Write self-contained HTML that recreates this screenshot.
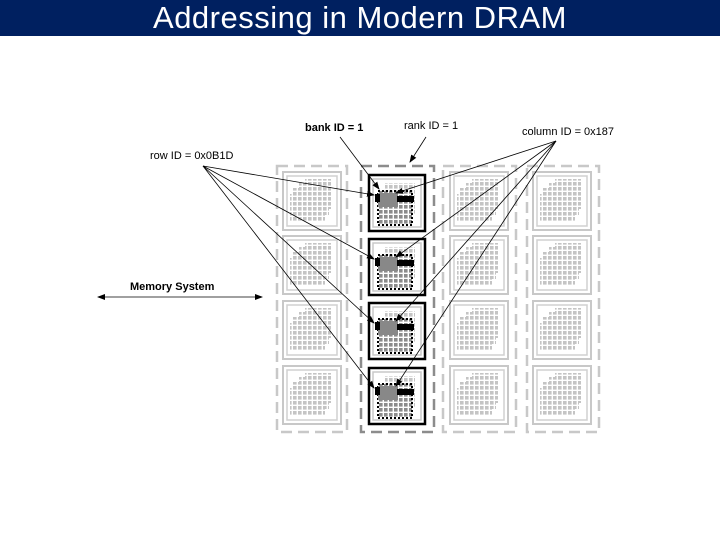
<!DOCTYPE html>
<html><head><meta charset="utf-8"><style>
body{margin:0;width:720px;height:540px;background:#fff;overflow:hidden;font-family:"Liberation Sans",sans-serif}
.hd{position:absolute;left:0;top:0;width:720px;height:36px;background:#002060;color:#fff;font-size:31px;text-align:center;line-height:36px;font-family:"Liberation Sans",sans-serif;letter-spacing:0.5px}
svg{position:absolute;left:0;top:0}
</style></head><body>
<div class="hd">Addressing in Modern DRAM</div>
<svg width="720" height="540" viewBox="0 0 720 540">
<defs>
<pattern id="g" width="5" height="5" patternUnits="userSpaceOnUse">
<rect width="5" height="5" fill="#fff"/><rect width="3.6" height="3.6" fill="#c4c4c4"/>
</pattern>
<pattern id="gd" width="5" height="5" patternUnits="userSpaceOnUse">
<rect width="5" height="5" fill="#fff"/><rect width="3.6" height="3.6" fill="#8c8c8c"/>
</pattern>
<g id="chip">
<rect x="0" y="0" width="58" height="58" fill="none" stroke="#c8c8c8" stroke-width="2"/>
<rect x="4" y="4" width="50" height="50" fill="none" stroke="#d0d0d0" stroke-width="1.5"/>
<rect x="22" y="7" width="26" height="30" fill="url(#g)"/>
<rect x="16" y="11" width="30" height="32" fill="url(#g)"/>
<rect x="10" y="16" width="32" height="34" fill="url(#g)"/>
<rect x="7" y="22" width="30" height="28" fill="url(#g)"/>
</g>
<g id="chipA">
<rect x="0" y="0" width="56" height="56" fill="none" stroke="#000" stroke-width="2.5"/>
<rect x="4" y="4" width="48" height="48" fill="none" stroke="#c8c8c8" stroke-width="1.5"/>
<rect x="16" y="8" width="30" height="32" fill="url(#g)"/>
<rect x="9" y="16" width="34" height="34" fill="url(#gd)" stroke="#000" stroke-width="2" stroke-dasharray="2,2"/>
<rect x="9" y="18" width="20" height="14" fill="#888"/>
<rect x="6" y="19" width="5" height="8" fill="#000"/>
<rect x="28" y="21" width="17" height="6" fill="#000"/>
</g>
<marker id="ar" markerWidth="8" markerHeight="8" refX="7" refY="4" orient="auto" markerUnits="userSpaceOnUse"><path d="M0,1 L8,4 L0,7 z" fill="#000"/></marker>
<marker id="al" markerWidth="8" markerHeight="8" refX="1" refY="4" orient="auto" markerUnits="userSpaceOnUse"><path d="M8,1 L0,4 L8,7 z" fill="#000"/></marker>
</defs>
<g fill="none" stroke-width="2.5" stroke-dasharray="11,6">
<rect x="277" y="166" width="70" height="266" stroke="#c8c8c8"/>
<rect x="361" y="166" width="73" height="266" stroke="#8c8c8c"/>
<rect x="443" y="166" width="73" height="266" stroke="#c8c8c8"/>
<rect x="527" y="166" width="72" height="266" stroke="#c8c8c8"/>
</g>
<use href="#chip" x="283" y="172"/><use href="#chip" x="283" y="236"/><use href="#chip" x="283" y="301"/><use href="#chip" x="283" y="366"/>
<use href="#chip" x="450" y="172"/><use href="#chip" x="450" y="236"/><use href="#chip" x="450" y="301"/><use href="#chip" x="450" y="366"/>
<use href="#chip" x="533" y="172"/><use href="#chip" x="533" y="236"/><use href="#chip" x="533" y="301"/><use href="#chip" x="533" y="366"/>
<use href="#chipA" x="369" y="175"/><use href="#chipA" x="369" y="239"/><use href="#chipA" x="369" y="303"/><use href="#chipA" x="369" y="368"/>
<g stroke="#000" stroke-width="0.8" marker-end="url(#ar)">
<line x1="203" y1="166" x2="374" y2="195"/>
<line x1="203" y1="166" x2="374" y2="259"/>
<line x1="203" y1="166" x2="374" y2="323"/>
<line x1="203" y1="166" x2="374" y2="388"/>
<line x1="556" y1="141" x2="396" y2="193"/>
<line x1="556" y1="141" x2="396" y2="257"/>
<line x1="556" y1="141" x2="396" y2="321"/>
<line x1="556" y1="141" x2="396" y2="386"/>
<line x1="340" y1="137" x2="379" y2="189"/>
<line x1="426" y1="137" x2="410" y2="162"/>
</g>
<line x1="98" y1="297" x2="262" y2="297" stroke="#000" stroke-width="0.8" marker-start="url(#al)" marker-end="url(#ar)"/>
<g font-size="11" fill="#000" font-family="Liberation Sans,sans-serif">
<text x="150" y="159">row ID = 0x0B1D</text>
<text x="305" y="131" font-weight="bold">bank ID = 1</text>
<text x="404" y="129">rank ID = 1</text>
<text x="522" y="135">column ID = 0x187</text>
<text x="130" y="290" font-weight="bold">Memory System</text>
</g>
</svg>
</body></html>
